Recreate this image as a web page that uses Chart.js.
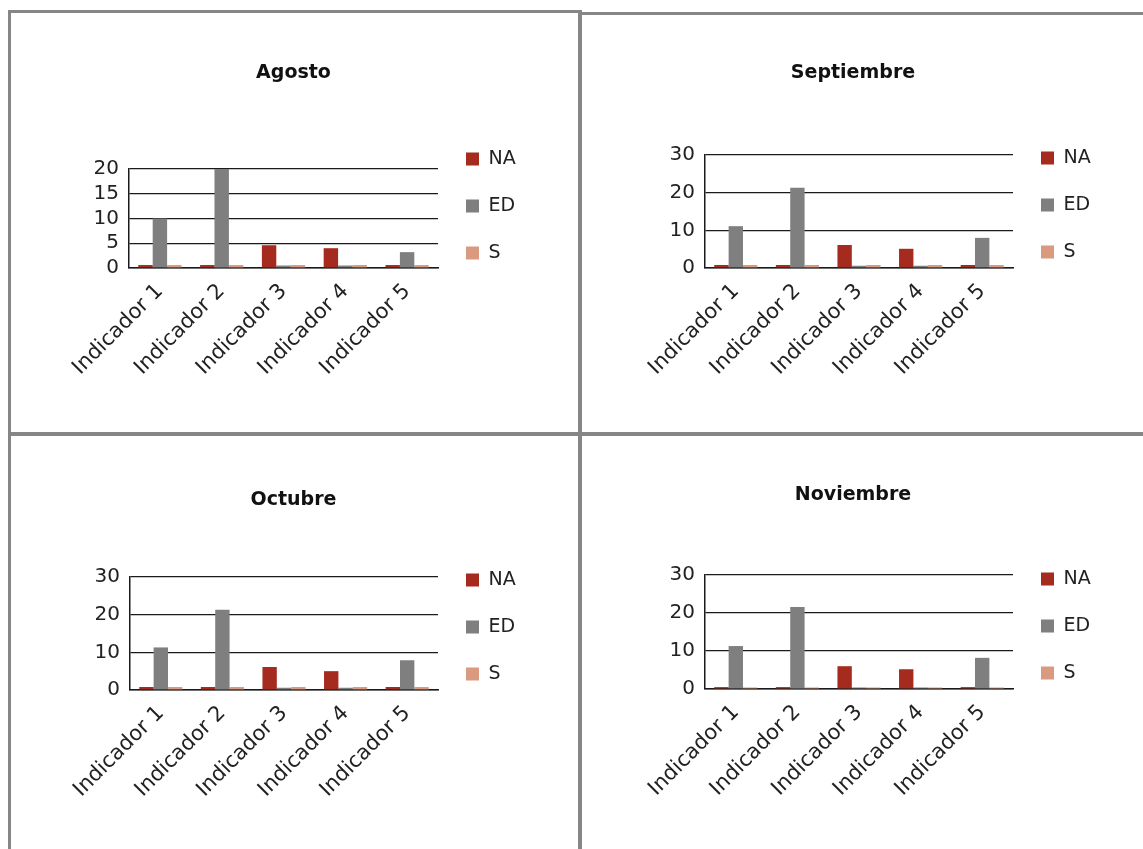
<!DOCTYPE html>
<html lang="es">
<head>
<meta charset="UTF-8">
<title>Indicadores por mes</title>
<style>
  body {
    margin: 0;
    background: #fff;
    width: 1143px;
    height: 849px;
    overflow: hidden;
    position: relative;
  }
  .frame {
    position: absolute;
    border: 3px solid #868686;
    box-sizing: border-box;
  }
  canvas {
    position: absolute;
  }
</style>
</head>
<body>
  <div class="frame" style="left:8px;top:10px;width:574px;height:426px"></div>
  <div class="frame" style="left:578px;top:12px;width:620px;height:424px"></div>
  <div class="frame" style="left:8px;top:432px;width:574px;height:500px"></div>
  <div class="frame" style="left:578px;top:432px;width:620px;height:500px"></div>

  <canvas id="agosto"></canvas>
  <canvas id="septiembre"></canvas>
  <canvas id="octubre"></canvas>
  <canvas id="noviembre"></canvas>

  <script src="https://cdn.jsdelivr.net/npm/chart.js"></script>
  <script>
    // categories and series
    const indicadores = ['Indicador 1', 'Indicador 2', 'Indicador 3', 'Indicador 4', 'Indicador 5'];
    const series = ['NA', 'ED', 'S'];
    const colores = ['#a52b1f', '#7f7f7f', '#d99a7f'];

    // values
    const agostoNA = [0.6, 0.6, 4.6, 4.0, 0.6];
    const agostoED = [10, 20, 0.5, 0.5, 3.2];
    const agostoS = [0.6, 0.6, 0.6, 0.6, 0.6];

    const septiembreNA = [0.8, 0.8, 6.1, 5.1, 0.8];
    const septiembreED = [11.1, 21.3, 0.6, 0.6, 8.0];
    const septiembreS = [0.8, 0.8, 0.8, 0.8, 0.8];

    const octubreNA = [0.8, 0.8, 6.1, 5.0, 0.8];
    const octubreED = [11.3, 21.3, 0.6, 0.6, 7.9];
    const octubreS = [0.8, 0.8, 0.8, 0.8, 0.8];

    const noviembreNA = [0.5, 0.5, 6.0, 5.2, 0.5];
    const noviembreED = [11.3, 21.6, 0.4, 0.4, 8.2];
    const noviembreS = [0.4, 0.4, 0.4, 0.4, 0.4];

    // y axis ranges
    const ejeAgosto = { max: 20, step: 5 };
    const ejeResto = { max: 30, step: 10 };

    const FONT = "'DejaVu Sans', sans-serif";
    const LEGEND_SIZE = 19;
    const LEGEND_GAP = 28;
    const BOX = 13;

    // where each chart sits on the page
    const paneles = [
      { id: 'agosto', titulo: 'Agosto', datos: [agostoNA, agostoED, agostoS], eje: ejeAgosto,
        left: 12, top: 12, right: 575, plotLeft: 129, plotTop: 169, plotBottom: 268, plotRight: 438,
        titleY: 73, legendMid: 206 },
      { id: 'septiembre', titulo: 'Septiembre', datos: [septiembreNA, septiembreED, septiembreS], eje: ejeResto,
        left: 584, top: 16, right: 1122, plotLeft: 705, plotTop: 155, plotBottom: 268, plotRight: 1013,
        titleY: 73, legendMid: 205 },
      { id: 'octubre', titulo: 'Octubre', datos: [octubreNA, octubreED, octubreS], eje: ejeResto,
        left: 12, top: 438, right: 575, plotLeft: 130, plotTop: 577, plotBottom: 690, plotRight: 438,
        titleY: 500, legendMid: 627 },
      { id: 'noviembre', titulo: 'Noviembre', datos: [noviembreNA, noviembreED, noviembreS], eje: ejeResto,
        left: 584, top: 438, right: 1122, plotLeft: 705, plotTop: 575, plotBottom: 689, plotRight: 1013,
        titleY: 495, legendMid: 626 }
    ];

    // legend width, measured the way Chart.js does it
    const meas = document.createElement('canvas').getContext('2d');
    meas.font = LEGEND_SIZE + 'px ' + FONT;
    const maxText = Math.max(...series.map(s => meas.measureText(s).width));
    const legendWidth = LEGEND_GAP + BOX + LEGEND_SIZE / 2 + maxText + 10;

    Chart.defaults.font.family = FONT;
    Chart.defaults.color = '#222';

    function crearGrafico(p) {
      const canvas = document.getElementById(p.id);
      const width = p.right - p.left;
      const height = 2 * (p.legendMid - p.top);
      canvas.width = width;
      canvas.height = height;
      canvas.style.left = p.left + 'px';
      canvas.style.top = p.top + 'px';

      const titleLine = 19 * 1.2;
      // same padding on both sides keeps the title centred on the canvas
      const side = width - (p.plotRight - p.left) - legendWidth;

      new Chart(canvas.getContext('2d'), {
        type: 'bar',
        data: {
          labels: indicadores,
          datasets: series.map((nombre, i) => ({
            label: nombre,
            data: p.datos[i],
            backgroundColor: colores[i],
            borderWidth: 0,
            categoryPercentage: 0.7,
            barPercentage: 1.0
          }))
        },
        options: {
          responsive: false,
          animation: false,
          devicePixelRatio: 1,
          layout: {
            padding: { left: side, top: 0, bottom: 0, right: side }
          },
          plugins: {
            title: {
              display: true,
              text: p.titulo,
              color: '#111',
              font: { size: 19, weight: 'bold' },
              padding: { top: p.titleY - p.top - titleLine / 2, bottom: p.plotTop - p.titleY - titleLine / 2 }
            },
            legend: {
              position: 'right',
              align: 'center',
              labels: {
                boxWidth: BOX,
                boxHeight: BOX,
                padding: LEGEND_GAP,
                color: '#222',
                font: { size: LEGEND_SIZE }
              }
            },
            tooltip: { enabled: false }
          },
          scales: {
            x: {
              grid: { display: false, drawTicks: false },
              border: { display: true, color: '#1a1a1a', width: 1.5 },
              ticks: { minRotation: 45, maxRotation: 45, padding: 11, font: { size: 21 }, color: '#222' },
              afterFit: (scale) => { scale.height = height - (p.plotBottom - p.top); }
            },
            y: {
              min: 0,
              max: p.eje.max,
              grid: { color: '#1a1a1a', lineWidth: 1.2, drawTicks: false },
              border: { display: true, color: '#1a1a1a', width: 1.5 },
              ticks: { stepSize: p.eje.step, autoSkip: false, padding: 10, font: { size: 20 }, color: '#222' },
              afterFit: (scale) => { scale.width = p.plotLeft - p.left - side; }
            }
          }
        }
      });
    }

    paneles.forEach(crearGrafico);
  </script>
</body>
</html>
